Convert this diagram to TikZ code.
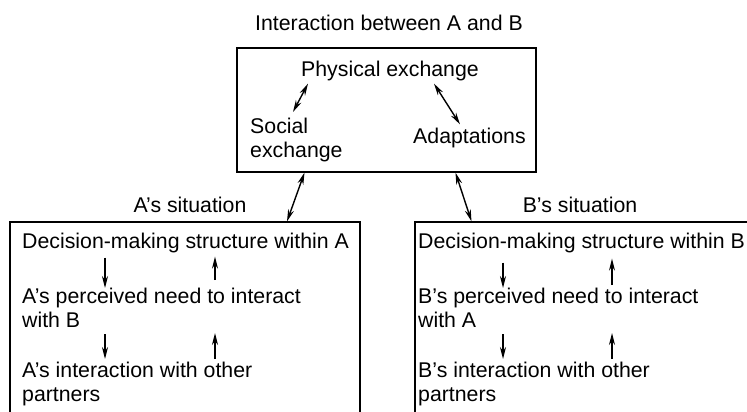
\documentclass[tikz,border=0pt]{standalone}
\usepackage{fontspec}
\setmainfont{Liberation Sans}
\usetikzlibrary{positioning, arrows.meta}

\begin{document}
\begin{tikzpicture}[
    x=1pt, y=-1pt,
    box/.style={rectangle, draw=black, line width=1.2pt},
    txt/.style={inner sep=0pt, font=\fontsize{21.3}{24}\selectfont, align=left},
    arrow/.style={-{Stealth[length=12pt, width=6pt]}, line width=1.4pt},
    biarrow/.style={{Stealth[length=12pt, width=6pt]}-{Stealth[length=12pt, width=6pt]}, line width=1.4pt}
]

    \clip (0,0) rectangle (747,412);

    % Title
    \node[txt, anchor=base] (title) at (389,31) {Interaction between A and B};

    % Interaction box
    \node[box, minimum width=299, minimum height=124] (exch) at (386.5,110) {};
    \node[txt, anchor=base] (phys) at (390,77) {Physical exchange};
    \node[txt, anchor=north west] (social) at (250,118) {Social\\exchange};
    \node[txt, anchor=base west] (adapt) at (413,143) {Adaptations};

    \draw[biarrow] ([shift={(43,-6)}]social.north west) -- ([shift={(7,2)}]phys.south west);
    \draw[biarrow] ([shift={(-45,2)}]phys.south east) -- ([shift={(47,-3)}]adapt.north west);

    % A's situation
    \node[txt, anchor=base] (sitA) at (190,212) {A's situation};
    \node[box, minimum width=350, minimum height=240] (boxA) at (185,342) {};
    \node[txt, anchor=base west] (decA) at (22,248) {Decision-making structure within A};
    \node[txt, anchor=north west] (needA) at (22,288) {A's perceived need to interact\\with B};
    \node[txt, anchor=north west] (otherA) at (22,362) {A's interaction with other\\partners};

    \coordinate (downA) at (105,0);
    \coordinate (upA) at (215,0);
    \draw[arrow, shorten <=5pt] (decA.south -| downA) -- (needA.north -| downA);
    \draw[arrow, shorten <=8pt, shorten >=4pt] (needA.north -| upA) -- (decA.south -| upA);
    \draw[arrow, shorten <=6pt, shorten >=3pt] (needA.south -| downA) -- (otherA.north -| downA);
    \draw[arrow, shorten <=3pt, shorten >=5pt] (otherA.north -| upA) -- (needA.south -| upA);

    % B's situation
    \node[txt, anchor=base] (sitB) at (580,212) {B's situation};
    \node[box, minimum width=355, minimum height=240] (boxB) at (592.5,342) {};
    \node[txt, anchor=base west] (decB) at (418,248) {Decision-making structure within B};
    \node[txt, anchor=north west] (needB) at (418,288) {B's perceived need to interact\\with A};
    \node[txt, anchor=north west] (otherB) at (418,362) {B's interaction with other\\partners};

    \coordinate (downB) at (503,0);
    \coordinate (upB) at (612,0);
    \draw[arrow, shorten <=10pt] (decB.south -| downB) -- (needB.north -| downB);
    \draw[arrow, shorten <=3pt, shorten >=6pt] (needB.north -| upB) -- (decB.south -| upB);
    \draw[arrow, shorten <=6pt, shorten >=3pt] (needB.south -| downB) -- (otherB.north -| downB);
    \draw[arrow, shorten <=3pt, shorten >=5pt] (otherB.north -| upB) -- (needB.south -| upB);

    % Links between the boxes
    \draw[biarrow] ([xshift=-82]exch.south) -- ([xshift=102]boxA.north);
    \draw[biarrow] ([xshift=69]exch.south) -- ([xshift=-121]boxB.north);

\end{tikzpicture}
\end{document}
